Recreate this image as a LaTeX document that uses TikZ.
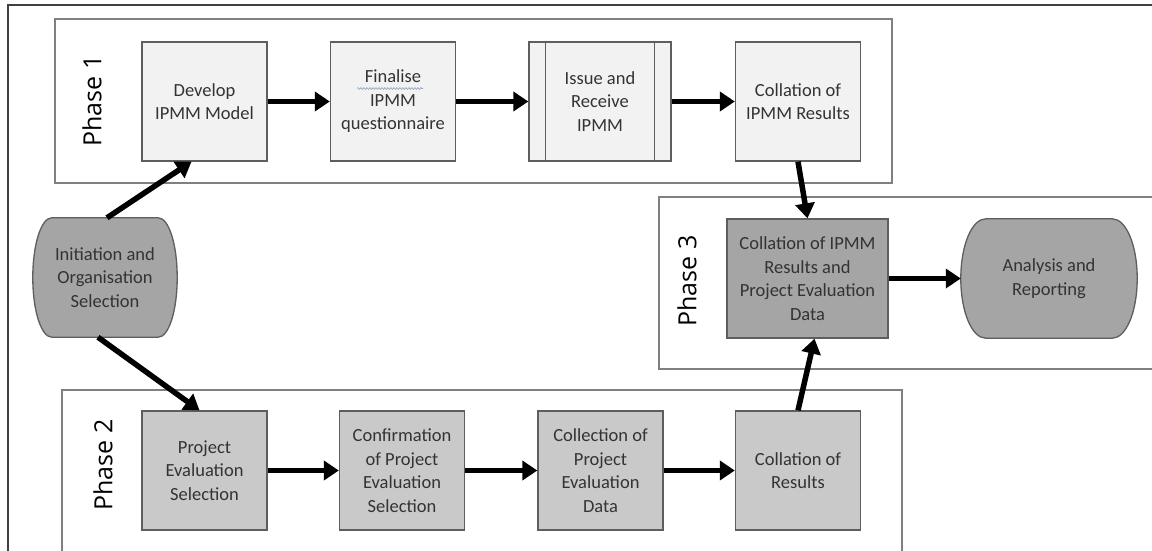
\documentclass[tikz,border=0pt]{standalone}
\usepackage{fontspec}
\setmainfont{Carlito}
\newfontfamily\phasefont{Open Sans}
\usetikzlibrary{arrows.meta,decorations.pathmorphing}
\pgfdeclarelayer{background}
\pgfsetlayers{background,main}
\definecolor{txt}{HTML}{333333}
\definecolor{edge}{HTML}{5E5E5E}
\definecolor{frame}{HTML}{808080}
\definecolor{outerline}{HTML}{404040}
\definecolor{fillA}{HTML}{F2F2F2}
\definecolor{fillB}{HTML}{C9C9C9}
\definecolor{fillC}{HTML}{A5A5A5}
\definecolor{spell}{RGB}{140,160,190}

% flat-topped shape with bulging sides, drawn behind a named node
\newcommand\bulgeshape[2]{%
  \path[bulge] ([xshift=#2]#1.north west) -- ([xshift=-#2]#1.north east)
    .. controls ([xshift=-0.45*#2]#1.north east) and ([yshift=-26pt]#1.north east) .. (#1.east)
    .. controls ([yshift=26pt]#1.south east) and ([xshift=-0.45*#2]#1.south east) .. ([xshift=-#2]#1.south east)
    -- ([xshift=#2]#1.south west)
    .. controls ([xshift=0.45*#2]#1.south west) and ([yshift=26pt]#1.south west) .. (#1.west)
    .. controls ([yshift=-26pt]#1.north west) and ([xshift=0.45*#2]#1.north west) .. cycle;}

\begin{document}
\begin{tikzpicture}[x=1pt,y=-1pt,
  every node/.style={font=\fontsize{18.5}{23.5}\selectfont, text=txt, align=center, inner sep=0pt},
  stepbox/.style={draw=edge, line width=1.3pt, minimum width=125pt, minimum height=119pt},
  lightbox/.style={stepbox, fill=fillA},
  midbox/.style={stepbox, fill=fillB},
  darkbox/.style={stepbox, fill=fillC},
  endcap/.style={draw=none, minimum height=119pt},
  bulge/.style={draw=edge, line width=1.3pt, fill=fillC},
  phasebox/.style={draw=frame, line width=2pt},
  phaselabel/.style={font=\phasefont\fontsize{25}{30}\selectfont, text=black, rotate=90},
  flow/.style={line width=5.5pt, -{Triangle[length=15pt,width=19pt]}},
]
\clip (0,0) rectangle (1152,551);

\begin{pgfonlayer}{background}
  \fill[white] (0,0) rectangle (1152,551);
\end{pgfonlayer}

% outer frame and the three phase panels
\draw[outerline, line width=1.5pt] (8,5) rectangle (1175,575);
\draw[phasebox] (55,19) rectangle (892,183);
\draw[phasebox] (659,197) rectangle (1175,369);
\draw[phasebox] (62,390) rectangle (902,575);

\node[phaselabel] (p1) at (92,101) {Phase 1};
\node[phaselabel] (p3) at (687,281) {Phase 3};
\node[phaselabel] (p2) at (103,465) {Phase 2};

% Phase 1
\node[lightbox] (dev) at (204.5,101.5) {Develop\\IPMM Model};
\node[lightbox] (fin) at (393,101.5) {Finalise\\IPMM\\questionnaire};
\node[lightbox, minimum width=142pt] (iss) at (600,101.5) {Issue and\\Receive\\IPMM};
\node[lightbox] (col1) at (798,101.5) {Collation of\\IPMM Results};
\draw[edge, line width=1.3pt] ([xshift=17pt]iss.north west) -- ([xshift=17pt]iss.south west);
\draw[edge, line width=1.3pt] ([xshift=-17pt]iss.north east) -- ([xshift=-17pt]iss.south east);
\draw[spell, line width=0.6pt, decorate, decoration={snake, amplitude=0.9pt, segment length=3pt}] (357,88.5) -- (423,88.5);

% Phase 2
\node[midbox] (pes) at (204.5,470.5) {Project\\Evaluation\\Selection};
\node[midbox] (conf) at (402,470.5) {Confirmation\\of Project\\Evaluation\\Selection};
\node[midbox] (coll) at (600.5,470.5) {Collection of\\Project\\Evaluation\\Data};
\node[midbox] (colr) at (798,470.5) {Collation of\\Results};

% Phase 3
\node[darkbox, minimum width=161pt] (col3) at (807.5,278.5) {Collation of IPMM\\Results and\\Project Evaluation\\Data};
\node[endcap, minimum width=176pt] (ana) at (1049,278.5) {Analysis and\\Reporting};

% start
\node[endcap, minimum width=144pt] (init) at (105,277.5) {Initiation and\\Organisation\\Selection};

\begin{pgfonlayer}{background}
  \bulgeshape{init}{19pt}
  \bulgeshape{ana}{25pt}
\end{pgfonlayer}

% connectors
\draw[flow] (dev.east) -- (fin.west);
\draw[flow] (fin.east) -- (iss.west);
\draw[flow] (iss.east) -- (col1.west);
\draw[flow] (col1.south) -- (col3.north);
\draw[flow] (pes.east) -- (conf.west);
\draw[flow] (conf.east) -- (coll.west);
\draw[flow] (coll.east) -- (colr.west);
\draw[flow] (colr.north) -- ([xshift=7pt]col3.south);
\draw[flow] (col3.east) -- (ana.west);
\draw[flow] ([xshift=2pt]init.north) -- ([xshift=-13pt]dev.south);
\draw[flow] ([xshift=-7pt]init.south) -- ([xshift=-5pt]pes.north);
\end{tikzpicture}
\end{document}
